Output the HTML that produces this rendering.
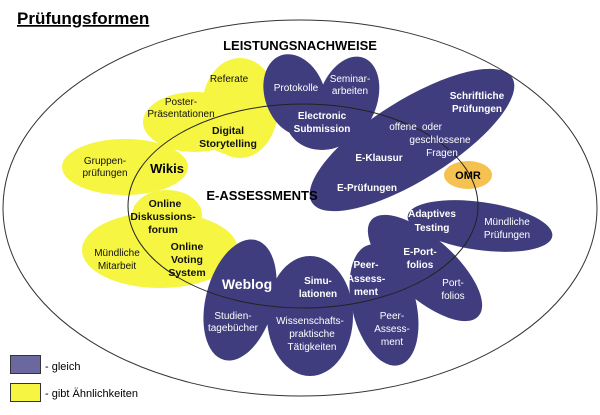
<!DOCTYPE html>
<html><head><meta charset="utf-8"><style>
html,body{margin:0;padding:0;background:#fff;width:600px;height:415px;overflow:hidden}
text{font-family:"Liberation Sans",Arial,sans-serif}
</style></head><body>
<svg width="600" height="415" viewBox="0 0 600 415" xmlns="http://www.w3.org/2000/svg">
<g fill="#f5f542">
<ellipse cx="240" cy="108" rx="38" ry="50"/>
<ellipse cx="195" cy="122" rx="52" ry="30"/>
<ellipse cx="235" cy="135" rx="30" ry="20"/>
<ellipse cx="125" cy="167" rx="63" ry="28"/>
<ellipse cx="167" cy="215" rx="35" ry="25"/>
<ellipse cx="160" cy="250" rx="78" ry="38"/>
</g>
<g fill="#3f3d7e">
<ellipse cx="295" cy="95" rx="30" ry="42" transform="rotate(-20 295 95)"/>
<ellipse cx="348" cy="100" rx="29" ry="45" transform="rotate(20 348 100)"/>
<ellipse cx="322" cy="120" rx="36" ry="30"/>
<ellipse cx="412" cy="140" rx="118" ry="40" transform="rotate(-32 412 140)"/>
<ellipse cx="480" cy="226" rx="73" ry="24" transform="rotate(8 480 226)"/>
<ellipse cx="425" cy="268" rx="72" ry="30" transform="rotate(42 425 268)"/>
<ellipse cx="384" cy="305" rx="32" ry="62" transform="rotate(-14 384 305)"/>
<ellipse cx="310" cy="316" rx="43" ry="60"/>
<ellipse cx="240" cy="300" rx="34" ry="62" transform="rotate(15 240 300)"/>
</g>
<ellipse cx="468" cy="175" rx="24" ry="14" fill="#f5c251"/>
<ellipse cx="300" cy="208" rx="297" ry="188" fill="none" stroke="#333" stroke-width="1"/>
<ellipse cx="303" cy="206" rx="175" ry="102" fill="none" stroke="#222" stroke-width="1"/>
<text x="17" y="24" font-size="17" font-weight="bold" text-decoration="underline">Prüfungsformen</text>
<g font-size="13" font-weight="bold" text-anchor="middle">
<text x="300" y="50">LEISTUNGSNACHWEISE</text>
<text x="262" y="200">E-ASSESSMENTS</text>
</g>
<g font-size="10" text-anchor="middle" fill="#111">
<text x="229" y="82">Referate</text>
<text x="181" y="105">Poster-</text><text x="181" y="117">Präsentationen</text>
<text x="105" y="164">Gruppen-</text><text x="105" y="176">prüfungen</text>
<text x="117" y="256">Mündliche</text><text x="117" y="269">Mitarbeit</text>
</g>
<g font-size="10.5" font-weight="bold" text-anchor="middle" fill="#111">
<text x="228" y="134">Digital</text><text x="228" y="147">Storytelling</text>
<text x="165" y="207">Online</text><text x="163" y="220">Diskussions-</text><text x="163" y="233">forum</text>
<text x="187" y="250">Online</text><text x="187" y="263">Voting</text><text x="187" y="276">System</text>
</g>
<text x="167" y="173" font-size="13" font-weight="bold" text-anchor="middle">Wikis</text>
<g font-size="10" text-anchor="middle" fill="#fff">
<text x="296" y="91">Protokolle</text>
<text x="350" y="82">Seminar-</text><text x="350" y="94">arbeiten</text>
<text x="403" y="130">offene</text><text x="432" y="130">oder</text>
<text x="440" y="143">geschlossene</text><text x="442" y="156">Fragen</text>
<text x="507" y="225">Mündliche</text><text x="507" y="238">Prüfungen</text>
<text x="453" y="286">Port-</text><text x="453" y="299">folios</text>
<text x="392" y="319">Peer-</text><text x="392" y="332">Assess-</text><text x="392" y="345">ment</text>
<text x="310" y="324">Wissenschafts-</text><text x="312" y="337">praktische</text><text x="312" y="350">Tätigkeiten</text>
<text x="233" y="319">Studien-</text><text x="233" y="331">tagebücher</text>
</g>
<g font-size="10" font-weight="bold" text-anchor="middle" fill="#fff">
<text x="322" y="119">Electronic</text><text x="322" y="132">Submission</text>
<text x="477" y="99">Schriftliche</text><text x="477" y="112">Prüfungen</text>
<text x="379" y="161">E-Klausur</text>
<text x="367" y="191">E-Prüfungen</text>
<text x="432" y="217">Adaptives</text><text x="432" y="231">Testing</text>
<text x="420" y="255">E-Port-</text><text x="420" y="268">folios</text>
<text x="366" y="268">Peer-</text><text x="366" y="282">Assess-</text><text x="366" y="295">ment</text>
<text x="318" y="284">Simu-</text><text x="318" y="297">lationen</text>
</g>
<text x="247" y="289" font-size="14" font-weight="bold" fill="#fff" text-anchor="middle">Weblog</text>
<text x="468" y="179" font-size="11" font-weight="bold" text-anchor="middle">OMR</text>
<rect x="10.5" y="355.5" width="30" height="18" fill="#6a689e" stroke="#333"/>
<rect x="10.5" y="383.5" width="30" height="18" fill="#f5f542" stroke="#333"/>
<text x="45" y="370" font-size="11">- gleich</text>
<text x="45" y="397" font-size="11">- gibt Ähnlichkeiten</text>
</svg>
</body></html>
